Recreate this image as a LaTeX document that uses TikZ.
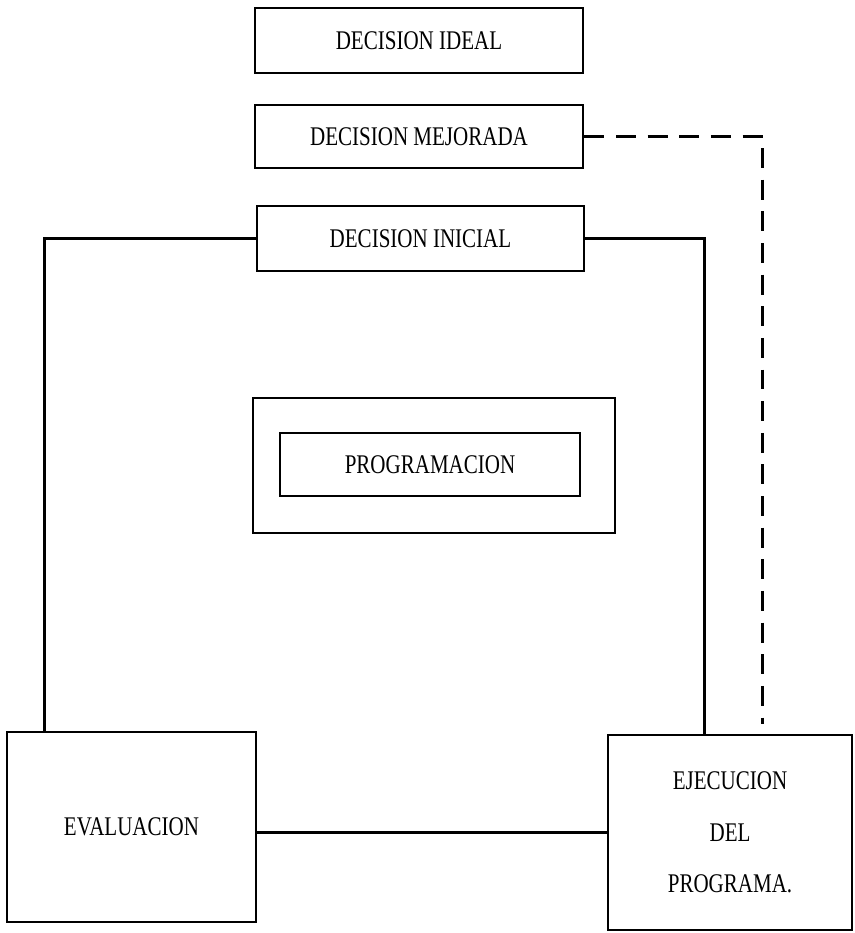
\documentclass[tikz,border=0pt]{standalone}
\usepackage{fontspec}
\setmainfont{Liberation Serif}[FakeStretch=0.78]
\usetikzlibrary{positioning,calc}

\begin{document}
\begin{tikzpicture}[x=0.03cm,y=-0.03cm,
box/.style={draw,line width=2.4pt,align=center,inner sep=0pt,font=\fontsize{23}{44}\selectfont},
link/.style={line width=2.2pt},
dashlink/.style={line width=2.4pt,dash pattern=on 17pt off 10pt}]
  \useasboundingbox (0,0) rectangle (854,933);
  \node[box,minimum width=9.84cm,minimum height=1.95cm] (ideal) at (419,40.5) {DECISION IDEAL};
  \node[box,minimum width=9.84cm,minimum height=1.89cm] (mejorada) at (419,136.5) {DECISION MEJORADA};
  \node[box,minimum width=9.81cm,minimum height=1.95cm] (inicial) at (420.5,238.5) {DECISION INICIAL};
  \node[box,minimum width=10.86cm,minimum height=4.05cm] (progext) at (434,465.5) {};
  \node[box,minimum width=9cm,minimum height=1.89cm] (prog) at (430,464.5) {PROGRAMACION};
  \node[box,minimum width=7.47cm,minimum height=5.7cm] (evaluacion) at (131.5,827) {EVALUACION};
  \node[box,minimum width=7.32cm,minimum height=5.85cm] (ejecucion) at (730,832.5) {EJECUCION\\DEL\\PROGRAMA.};
  \draw[link] (inicial.west) -| ([xshift=1.17cm]evaluacion.north west);
  \draw[link] (inicial.east) -| ([xshift=2.94cm]ejecucion.north west);
  \draw[link] (evaluacion.east |- ejecucion) -- (ejecucion.west);
  \draw[dashlink] (mejorada.east) -| ([xshift=4.68cm,yshift=0.3cm]ejecucion.north west);
\end{tikzpicture}
\end{document}
